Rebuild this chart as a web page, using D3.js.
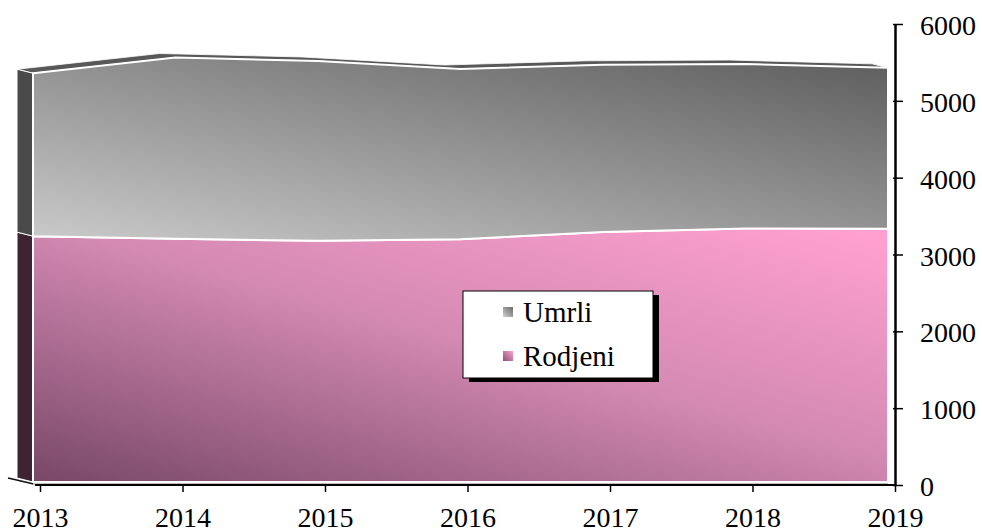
<!DOCTYPE html>
<html>
<head>
<meta charset="utf-8">
<script src="https://cdn.jsdelivr.net/npm/d3@7"></script>
<style>
  body { margin: 0; background: #fff; }
  svg { display: block; }
  text { font-family: "Times New Roman", "Liberation Serif", Tinos, serif; }
</style>
</head>
<body>
<svg id="chart" width="982" height="532"></svg>
<script>
const years = [2013, 2014, 2015, 2016, 2017, 2018, 2019];
const rodjeni = [3200, 3165, 3140, 3160, 3255, 3300, 3295];
const umrli = [2120, 2360, 2340, 2215, 2175, 2140, 2095];
const seriesNames = ["Rodjeni", "Umrli"];
const yTicks = [0, 1000, 2000, 3000, 4000, 5000, 6000];

(function () {
const FONT = '"Times New Roman", "Liberation Serif", Tinos, serif';
const svg = d3.select("#chart");
const defs = svg.append("defs");

function lg(id, x1, y1, x2, y2, stops, units) {
  const g = defs.append("linearGradient").attr("id", id)
    .attr("x1", x1).attr("y1", y1).attr("x2", x2).attr("y2", y2);
  if (units) g.attr("gradientUnits", units);
  stops.forEach(s => g.append("stop").attr("offset", s[0]).attr("stop-color", s[1]));
}
lg("gUmrli", 33, 240, 100, -100, [[0, "#cacaca"], [1, "#5c5c5c"]], "userSpaceOnUse");
lg("gRodjeni", 33, 482, 154, 40, [[0, "#784866"], [0.55, "#d48ab3"], [1, "#ffa0d0"]], "userSpaceOnUse");
lg("gLegU", 0, 1, 1, 0, [[0, "#d0d0d0"], [1, "#6a6a6a"]]);
lg("gLegR", 0, 1, 1, 0, [[0, "#8a5272"], [1, "#ff9fd0"]]);

const x = d3.scaleLinear().domain([2013, 2019]).range([40, 895]);
const y = d3.scaleLinear().domain([0, 6000]).range([485, 24]);

const fdx = -7, fdy = -3;
const bdx = -16, bdy = -4;

const data = years.map((yr, i) => ({ year: yr, Rodjeni: rodjeni[i], Umrli: umrli[i] }));
const stacked = d3.stack().keys(seriesNames)(data);

const fx = d => x(d.data.year) + fdx;
const area = d3.area().x(fx).y0(d => y(d[0]) + fdy).y1(d => y(d[1]) + fdy);

const sideColors = { Rodjeni: "#3e2333", Umrli: "#4a4a4a" };
const frontFill = { Rodjeni: "url(#gRodjeni)", Umrli: "url(#gUmrli)" };

const upper = stacked[1];
const frontTop = upper.map(d => [fx(d), y(d[1]) + fdy]);
const backTop = frontTop.map(p => [p[0] + bdx, p[1] + bdy]).reverse();
svg.append("path")
  .attr("d", "M" + frontTop.concat(backTop).map(p => p.join(",")).join("L") + "Z")
  .attr("fill", "#585858").attr("stroke", "#ffffff").attr("stroke-width", 0.8);

stacked.forEach(s => {
  const d0 = s[0];
  const xf = fx(d0);
  const yTop = y(d0[1]) + fdy, yBot = y(d0[0]) + fdy;
  svg.append("path")
    .attr("d", `M${xf},${yTop}L${xf + bdx},${yTop + bdy}L${xf + bdx},${yBot + bdy}L${xf},${yBot}Z`)
    .attr("fill", sideColors[s.key]).attr("stroke", "#ffffff").attr("stroke-width", 1);
});

svg.append("line").attr("x1", 8).attr("y1", 478).attr("x2", 38).attr("y2", 485)
  .attr("stroke", "#111").attr("stroke-width", 1.5);
svg.append("rect").attr("x", 33).attr("y", 482).attr("width", 855).attr("height", 3).attr("fill", "#bdbdbd");

svg.selectAll("path.front").data(stacked).enter().append("path")
  .attr("class", "front")
  .attr("d", area)
  .attr("fill", s => frontFill[s.key])
  .attr("stroke", "#ffffff").attr("stroke-width", 2).attr("stroke-linejoin", "round");

const xAxis = d3.axisBottom(x).tickValues(years).tickFormat(d3.format("d"))
  .tickSizeInner(7).tickSizeOuter(0).tickPadding(15);
const gx = svg.append("g").attr("transform", "translate(0,485)").call(xAxis);
gx.attr("font-family", FONT).attr("font-size", 28);
gx.select(".domain").attr("stroke", "#000").attr("stroke-width", 2).attr("d", "M35,0H895");
gx.selectAll(".tick line").attr("stroke", "#000").attr("stroke-width", 1.5);
gx.selectAll("text").attr("fill", "#000");

const yAxis = d3.axisRight(y).tickValues(yTicks).tickFormat(d3.format("d"))
  .tickSizeInner(8).tickSizeOuter(0).tickPadding(17);
const gy = svg.append("g").attr("transform", "translate(895,0)").call(yAxis);
gy.attr("font-family", FONT).attr("font-size", 28);
gy.select(".domain").attr("stroke", "#000").attr("stroke-width", 2.5);
gy.selectAll(".tick line").attr("stroke", "#000").attr("stroke-width", 1.5).attr("x1", -2);
gy.selectAll("text").attr("fill", "#000").attr("dy", "0.38em");

const leg = svg.append("g").attr("font-family", FONT);
leg.append("rect").attr("x", 469).attr("y", 295).attr("width", 190).attr("height", 87).attr("fill", "#000");
leg.append("rect").attr("x", 463).attr("y", 291).attr("width", 190).attr("height", 87)
  .attr("fill", "#fff").attr("stroke", "#000").attr("stroke-width", 1);
const legItems = [
  { name: "Umrli", fill: "url(#gLegU)", y: 322 },
  { name: "Rodjeni", fill: "url(#gLegR)", y: 366 }
];
legItems.forEach(it => {
  leg.append("rect").attr("x", 503).attr("y", it.y - 15).attr("width", 10).attr("height", 10).attr("fill", it.fill);
  leg.append("text").attr("x", 523).attr("y", it.y).attr("font-size", 29).attr("fill", "#000").text(it.name);
});
})();
</script>
</body>
</html>
